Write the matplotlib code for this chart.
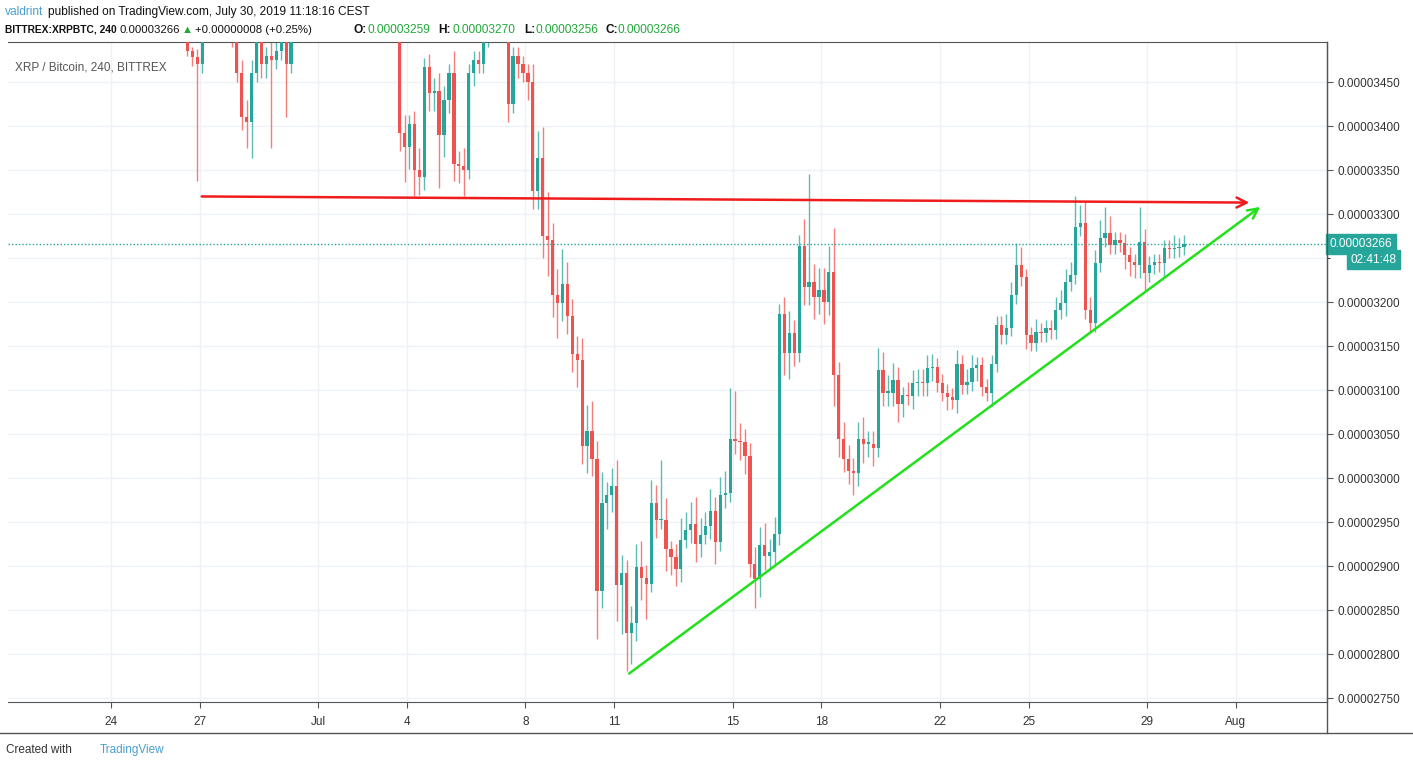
import matplotlib
matplotlib.use("Agg")
import matplotlib.pyplot as plt
import numpy as np

# prices in units of 1e-8 BTC, 4h candles; last candle ends Jul 30 04:00
closes = [3485,3478,3470,3510,3540,3560,3550,3530,3520,3500, 3460,3410,3405,3460,3500,3470,3480,3475,3485,3500,
          3470,3520,3540,3560,3580,3590,3570,3600,3610,3590, 3580,3560,3570,3590,3600,3620,3610,3590,3570,3560,
          3540,3530,3520,3392,3376,3402,3350,3342,3467,3437, 3440,3390,3430,3460,3357,3355,3350,3460,3475,3470,
          3500,3530,3540,3520,3510,3425,3480,3470,3460,3450,
          3326,3364,3275,3270,3208,3199,3220,3184,3141,3134, 3036,3053,3022,2872,2972,2981,2991,2878,2892,2824,
          2835,2899,2886,2880,2972,2952,2952,2919,2910,2897, 2930,2941,2948,2925,2935,2946,2963,2927,2981,2983,
          3044,3042,3041,3025,2902,2885,2924,2911,2916,2936, 3186,3142,3165,3142,3264,3217,3223,3206,3214,3200,
          3234,3117,3044,3022,3008,3006,3044,3039,3039,3034, 3123,3097,3097,3111,3084,3094,3093,3108,3109,3108,
          3125,
          3126,3108,3097,3092,3089,3130,3106,3109,3125,3128, 3103,3097,3130,3174,3162,3171,3208,3242,3228,3162,
          3154,3166,3165,3170,3168,3191,3199,3223,3231,3285, 3290,3191,3176,3244,3273,3278,3265,3270,3267,3253,
          3245,3242,3268,3233,3242,3245,3244,3261,3260,3261, 3263,3266]
first_open = 3495
upper_wick = [5,5,10,10,10,10,10,10,10,10, 10,15,20,15,10,15,10,20,10,10, 10,10,10,10,10,10,10,10,10,10,
              10,10,10,10,10,10,10,10,10,10, 10,10,10,15,20,10,15,25,10,15, 15,20,15,10,25,15,20,10,10,10,
              10,10,10,10,10,20,10,10,10,10,
              20,30,35,50,20,30,40,25,20,20, 25,30,35,20,35,15,20,30,20,15,
              20,26,30,15,26,20,69,25,10,15, 25,20,25,30,20,15,25,15,20,25, 58,55,20,15,15,20,20,25,15,20,
              12,20,25,15,12,30,122,20,25,25, 30,50,15,20,15,15,20,25,15,15, 25,20,20,20,15,10,15,15,15,15, 15,
              15,10,10,10,10,15,10,15,15,10, 10,10,10,10,10,15,15,25,20,10, 10,15,10,10,10,15,15,15,15,35,
              20,25,15,15,20,30,20,10,10,10, 10,10,40,15,10,10,10,10,10,15, 10,10]
lower_wick = [5,10,133,10,10,10,10,10,10,10, 10,15,30,41,10,15,15,100,10,10, 60,10,10,10,10,10,10,10,10,10,
              10,10,10,10,10,10,10,10,10,10, 10,10,10,20,40,25,30,20,15,20, 20,60,25,15,20,20,30,10,15,10,
              10,10,10,10,10,20,10,15,10,20,
              20,20,25,40,25,40,20,20,20,30, 20,30,20,55,20,30,20,40,55,43,
              35,20,25,40,10,20,10,25,20,20, 15,10,15,20,15,10,15,25,10,15, 10,15,20,20,15,33,20,15,15,15,
              12,25,30,15,10,20,20,25,20,25, 15,35,20,15,15,25,15,22,15,20, 10,15,15,15,20,15,10,15,15,15, 15,
              15,10,10,15,10,15,10,10,10,15, 10,10,15,10,10,10,10,10,10,15, 10,10,10,10,10,10,10,15,10,10,
              10,10,10,10,10,10,10,10,10,15, 15,15,15,20,10,10,10,15,10,10, 10,10]
tick_days = [0, 3, 7, 10, 14, 17, 21, 24, 28, 31, 35, 38]   # days since Jun 24
tick_labels = ["24", "27", "Jul", "4", "8", "11", "15", "18", "22", "25", "29", "Aug"]
price_ticks = [2750,2800,2850,2900,2950,3000,3050,3100,3150,3200,3300,3350,3400,3450]
last_price = 3266
resistance = ([2.97, 38.55], [3320, 3313])
support = ([17.43, 38.9], [2776, 3310])

GREEN = "#26a69a"; RED = "#ef5350"; TG = "#22a83a"
plt.rcParams["font.family"] = "Liberation Sans"
fig = plt.figure(figsize=(14.13, 7.68), dpi=100)
ax = fig.add_axes([8/1413, 66/768, 1319/1413, 660/768])
N = len(closes)
t_end = 36.25
times = [t_end - (N - 1 - i) / 6 for i in range(N)]
opens = [first_open] + closes[:-1]
for t, o, c, u, d in zip(times, opens, closes, upper_wick, lower_wick):
    col = GREEN if c >= o else RED
    hi = max(o, c) + u; lo = min(o, c) - d
    ax.vlines(t, lo, hi, color=col, lw=1, alpha=0.75, zorder=2)
    ax.bar(t, max(abs(c - o), 1.5), bottom=min(o, c), width=0.11, color=col, zorder=3, lw=0)

ax.set_xlim(-3.48, 41.08)
ax.set_ylim(2745.5, 3495.5)
ax.set_xticks(tick_days)
ax.set_xticklabels(tick_labels)
ax.set_yticks(price_ticks)
ax.set_yticklabels(["0.0000%d" % p for p in price_ticks])
ax.yaxis.tick_right()
ax.tick_params(axis="both", length=4, labelsize=8.5, colors="#555555", labelcolor="#333333")
ax.tick_params(axis="x", pad=6)
ax.grid(True, color="#eef1f6", lw=1, zorder=0)
ax.set_yticks([3250], minor=True)
ax.grid(True, which="minor", axis="y", color="#eef1f6", lw=1)
ax.spines["left"].set_visible(False)
for s in ["top", "bottom", "right"]:
    ax.spines[s].set_color("#555555")

ax.axhline(last_price, color=GREEN, lw=1, ls=(0, (1, 1.5)), zorder=4)
ax.annotate("", xy=(resistance[0][1], resistance[1][1]), xytext=(resistance[0][0], resistance[1][0]),
            arrowprops=dict(arrowstyle="->", color="#f01c1c", lw=1.8, mutation_scale=18), zorder=5)
ax.annotate("", xy=(support[0][1], support[1][1]), xytext=(support[0][0], support[1][0]),
            arrowprops=dict(arrowstyle="->", color="#22e01c", lw=1.8, mutation_scale=18), zorder=5)

ax.text(0.005, 0.97, "XRP / Bitcoin, 240, BITTREX", transform=ax.transAxes, fontsize=8.5, color="#555555", va="top")
ax.text(1.002, (last_price - 2745.5) / 750, "0.00003266", transform=ax.transAxes, fontsize=8.5, color="white",
        va="center", ha="left", bbox=dict(boxstyle="square,pad=0.3", fc=GREEN, ec=GREEN))
ax.text(1.018, (last_price - 18 - 2745.5) / 750, "02:41:48", transform=ax.transAxes, fontsize=8.5, color="white",
        va="center", ha="left", bbox=dict(boxstyle="square,pad=0.3", fc=GREEN, ec=GREEN))

# header
y1 = 1 - 12/768; y2 = 1 - 30/768
fig.text(5/1413, y1, "valdrint", fontsize=8.6, color="#4a9fd0", va="center")
fig.text(48/1413, y1, "published on TradingView.com, July 30, 2019 11:18:16 CEST", fontsize=8.6, color="#111111", va="center")
fig.text(5/1413, y2, "BITTREX:XRPBTC, 240", fontsize=7.4, color="#111111", va="center", weight="bold")
fig.text(120/1413, y2, "0.00003266", fontsize=8.2, color="#111111", va="center")
fig.text(182/1413, y2, "▲", fontsize=8, color=TG, va="center")
fig.text(195/1413, y2, "+0.00000008 (+0.25%)", fontsize=8.2, color="#111111", va="center")
parts = [(354, 367, "O:", "0.00003259"), (438, 452, "H:", "0.00003270"),
         (524, 535, "L:", "0.00003256"), (605, 618, "C:", "0.00003266")]
for xk, xv, k, v in parts:
    fig.text(xk/1413, y2, k, fontsize=8.6, color="#111111", va="center", weight="bold")
    fig.text(xv/1413, y2, v, fontsize=8.6, color=TG, va="center")
fig.text(6/1413, 1 - 750/768, "Created with", fontsize=8.5, color="#333333", va="center")
fig.text(100/1413, 1 - 750/768, "TradingView", fontsize=8.5, color="#4a9fd0", va="center")
fig.add_artist(plt.Line2D([0, 1], [1 - 733/768, 1 - 733/768], color="#555555", lw=1))
fig.add_artist(plt.Line2D([1327/1413, 1327/1413], [1 - 733/768, 1 - 42/768], color="#555555", lw=1))
fig.savefig("out.png", dpi=100)
